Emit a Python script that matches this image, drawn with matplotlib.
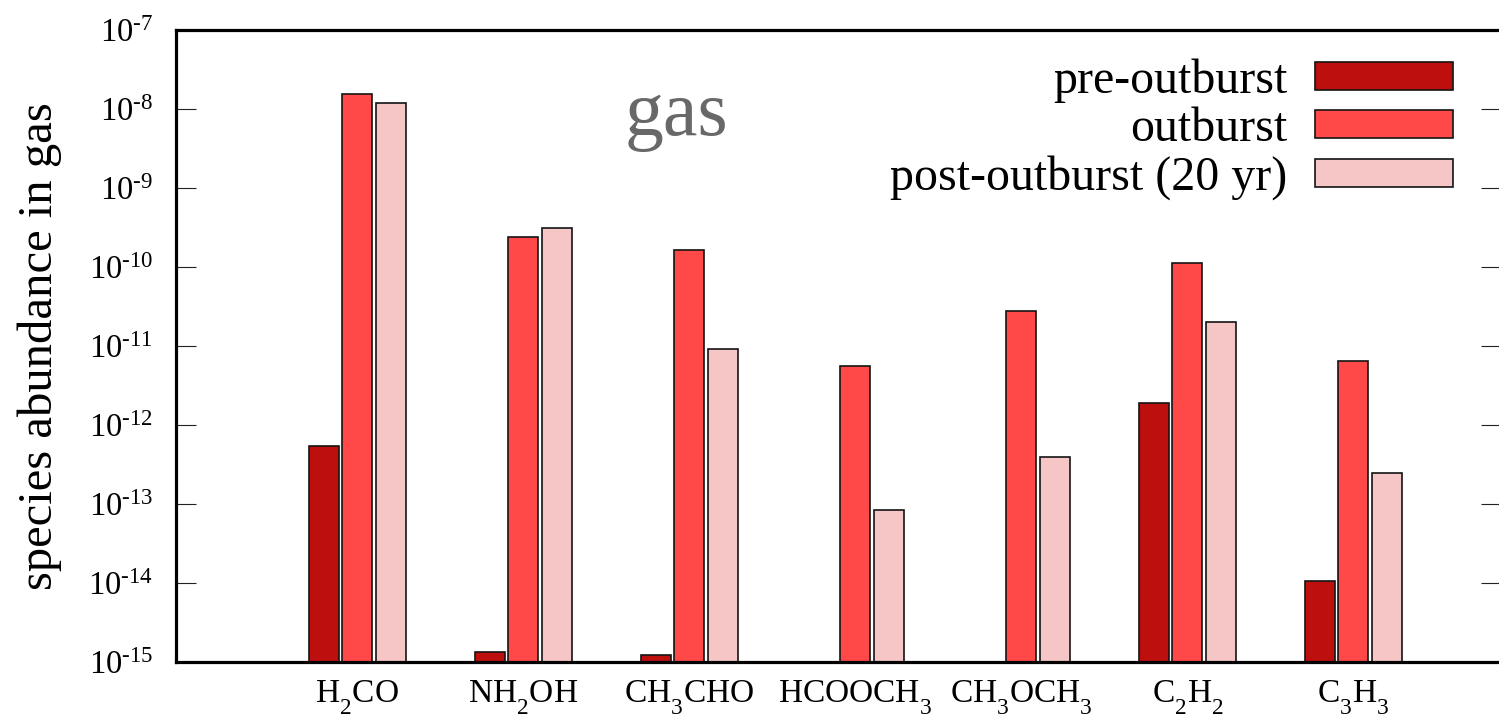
import numpy as np
import matplotlib
matplotlib.use('Agg')
import matplotlib.pyplot as plt
import matplotlib._mathtext as mathtext_internal
from matplotlib.ticker import NullLocator

plt.rcParams['font.family'] = 'Liberation Serif'
plt.rcParams['mathtext.fontset'] = 'custom'
plt.rcParams['mathtext.rm'] = 'Liberation Serif'
plt.rcParams['mathtext.it'] = 'Liberation Serif:italic'
plt.rcParams['mathtext.bf'] = 'Liberation Serif:bold'
# drop subscripts a bit lower than the mathtext default
mathtext_internal.FontConstantsBase.sub1 = 0.8

# species and gas-phase abundances for the three epochs
species = [r'H$_2$CO', r'NH$_2$OH', r'CH$_3$CHO', r'HCOOCH$_3$',
           r'CH$_3$OCH$_3$', r'C$_2$H$_2$', r'C$_3$H$_3$']
pre_outburst = [5.4e-13, 1.33e-15, 1.23e-15, np.nan, np.nan, 1.9e-12, 1.07e-14]
outburst = [1.55e-8, 2.4e-10, 1.65e-10, 5.6e-12, 2.75e-11, 1.12e-10, 6.5e-12]
post_outburst = [1.18e-8, 3.1e-10, 9.1e-12, 8.4e-14, 3.9e-13, 2.0e-11, 2.45e-13]
series_names = ['pre-outburst', 'outburst', 'post-outburst (20 yr)']

exponents = list(range(-15, -6))
ytick_labels = [r'10$^{\text{-%d}}$' % -e for e in exponents]

colors = ['#be0f0f', '#ff4848', '#f6c6c6']

fig = plt.figure(figsize=(14.99, 7.21), dpi=100)
ax = fig.add_axes([176 / 1499, 59 / 721, 1324.5 / 1499, 632 / 721])

x = np.arange(len(species))
step = 0.2
width = 0.18
for i, (vals, name) in enumerate(zip([pre_outburst, outburst, post_outburst], series_names)):
    ax.bar(x + (i - 1) * step, vals, width, color=colors[i], edgecolor='#141414',
           linewidth=1.2, label=name, zorder=2)

ax.set_yscale('log')
ax.set_ylim(1e-15, 1e-7)
ax.set_xlim(-1.093, 6.886)
ax.set_yticks([10.0 ** e for e in exponents])
ax.set_yticklabels(ytick_labels)
ax.yaxis.set_minor_locator(NullLocator())
ax.set_xticks(x)
ax.set_xticklabels(species)

ax.tick_params(axis='y', which='major', direction='in', length=14.4, width=0.8,
               right=True, pad=16.5, labelsize=23.5, color='#222222')
ax.tick_params(axis='x', length=0, pad=12, labelsize=24)
for s in ax.spines.values():
    s.set_linewidth(2.3)

ax.set_ylabel('species abundance in gas', fontsize=35)
ax.yaxis.set_label_coords(-0.086, 0.5)

ax.text(0.378, 0.834, 'gas', transform=ax.transAxes, ha='center', va='baseline',
        fontsize=56, color='#686868')

ax.legend(loc='upper right', bbox_to_anchor=(0.964, 0.955), fontsize=34.5,
          frameon=False, markerfirst=False, handlelength=2.875, handleheight=0.52,
          handletextpad=0.58, labelspacing=0.09, borderpad=0, borderaxespad=0)

fig.savefig('out.png', dpi=100)
